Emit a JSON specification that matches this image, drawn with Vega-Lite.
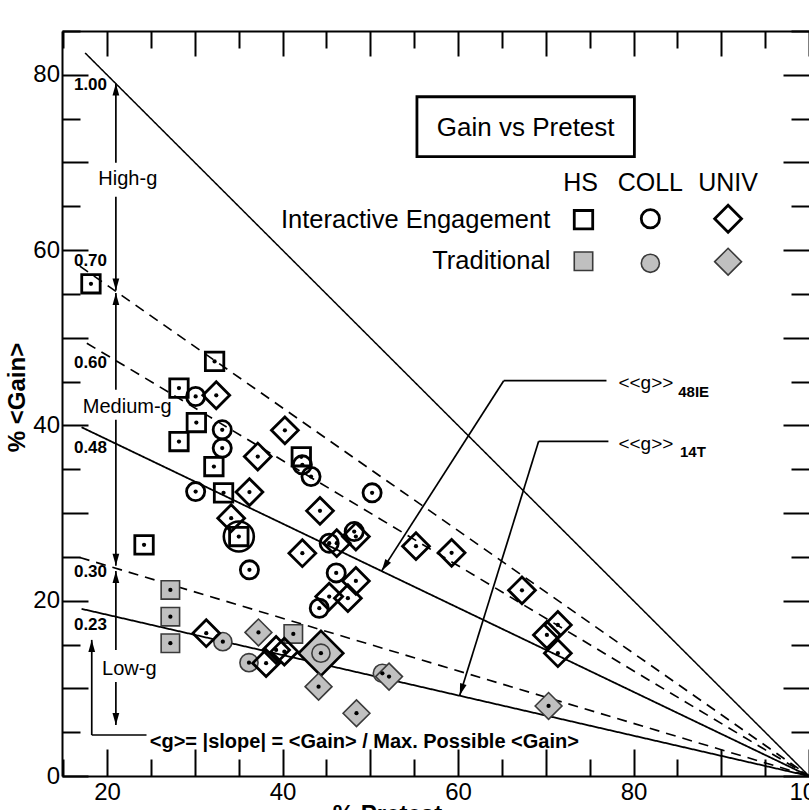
{
  "$schema": "https://vega.github.io/schema/vega-lite/v6.json",
  "width": 747,
  "height": 745,
  "autosize": {"type": "none"},
  "padding": {"left": 62, "top": 31, "right": 0, "bottom": 34},
  "background": "white",
  "config": {"view": {"stroke": null}, "font": "Liberation Sans", "text": {"font": "Liberation Sans", "color": "black"}},
  "datasets": {
    "glines": [
      {"g": "1.00", "style": "thin", "x": 17.5, "y": 82.5}, {"g": "1.00", "style": "thin", "x": 100, "y": 0},
      {"g": "0.70", "style": "dash", "x": 16.9, "y": 58.17}, {"g": "0.70", "style": "dash", "x": 100, "y": 0},
      {"g": "0.60", "style": "dash", "x": 17.7, "y": 49.38}, {"g": "0.60", "style": "dash", "x": 100, "y": 0},
      {"g": "0.48", "style": "thick", "x": 17.1, "y": 39.79}, {"g": "0.48", "style": "thick", "x": 100, "y": 0},
      {"g": "0.30", "style": "dash", "x": 16.9, "y": 24.93}, {"g": "0.30", "style": "dash", "x": 100, "y": 0},
      {"g": "0.23", "style": "thick", "x": 17.1, "y": 19.07}, {"g": "0.23", "style": "thick", "x": 100, "y": 0}
    ],
    "segs": [
      {"x": 21.01, "y": 79.0, "x2": 21.01, "y2": 69.98},
      {"x": 21.01, "y": 66.1, "x2": 21.01, "y2": 55.4},
      {"x": 21.01, "y": 55.1, "x2": 21.01, "y2": 44.06},
      {"x": 21.01, "y": 40.64, "x2": 21.01, "y2": 24.0},
      {"x": 21.01, "y": 23.4, "x2": 21.01, "y2": 14.38},
      {"x": 21.01, "y": 10.73, "x2": 21.01, "y2": 5.82},
      {"x": 18.26, "y": 15.53, "x2": 18.26, "y2": 4.68},
      {"x": 18.26, "y": 4.68, "x2": 24.5, "y2": 4.68},
      {"x": 65.21, "y": 45.1, "x2": 76.92, "y2": 45.1},
      {"x": 65.21, "y": 45.1, "x2": 51.3, "y2": 23.4},
      {"x": 69.19, "y": 38.18, "x2": 77.14, "y2": 38.18},
      {"x": 69.19, "y": 38.18, "x2": 60.2, "y2": 9.2}
    ],
    "heads": [
      {"x": 21.01, "y": 79.0, "angle": 0}, {"x": 21.01, "y": 55.4, "angle": 180},
      {"x": 21.01, "y": 55.1, "angle": 0}, {"x": 21.01, "y": 24.0, "angle": 180},
      {"x": 21.01, "y": 23.4, "angle": 0}, {"x": 21.01, "y": 5.82, "angle": 180},
      {"x": 18.26, "y": 15.53, "angle": 0}, {"x": 51.3, "y": 23.4, "angle": 212.8},
      {"x": 60.2, "y": 9.2, "angle": 197.3}
    ],
    "box": [{"x": 55.32, "x2": 80.1, "y": 70.66, "y2": 77.5}],
    "sym": [
      {"kind": "data", "method": "IE", "level": "HS", "x": 18.17, "y": 56.16},
      {"kind": "data", "method": "IE", "level": "HS", "x": 32.26, "y": 47.3},
      {"kind": "data", "method": "IE", "level": "HS", "x": 28.2, "y": 44.26},
      {"kind": "data", "method": "IE", "level": "HS", "x": 30.18, "y": 40.33},
      {"kind": "data", "method": "IE", "level": "HS", "x": 28.2, "y": 38.16},
      {"kind": "data", "method": "IE", "level": "HS", "x": 32.18, "y": 35.31},
      {"kind": "data", "method": "IE", "level": "HS", "x": 33.28, "y": 32.31},
      {"kind": "data", "method": "IE", "level": "HS", "x": 35.02, "y": 27.32},
      {"kind": "data", "method": "IE", "level": "HS", "x": 24.22, "y": 26.37},
      {"kind": "data", "method": "IE", "level": "HS", "x": 42.14, "y": 36.42},
      {"kind": "data", "method": "IE", "level": "COLL", "x": 30.1, "y": 43.3},
      {"kind": "data", "method": "IE", "level": "COLL", "x": 33.13, "y": 39.5},
      {"kind": "data", "method": "IE", "level": "COLL", "x": 33.13, "y": 37.41},
      {"kind": "data", "method": "IE", "level": "COLL", "x": 42.26, "y": 35.5},
      {"kind": "data", "method": "IE", "level": "COLL", "x": 43.25, "y": 34.17},
      {"kind": "data", "method": "IE", "level": "COLL", "x": 30.1, "y": 32.45},
      {"kind": "data", "method": "IE", "level": "COLL", "x": 50.21, "y": 32.31},
      {"kind": "data", "method": "IE", "level": "COLL", "x": 45.32, "y": 26.56},
      {"kind": "data", "method": "IE", "level": "COLL", "x": 48.17, "y": 27.89},
      {"kind": "data", "method": "IE", "level": "COLL", "x": 36.23, "y": 23.52},
      {"kind": "data", "method": "IE", "level": "COLL", "x": 46.12, "y": 23.17},
      {"kind": "data", "method": "IE", "level": "COLL", "x": 44.19, "y": 19.14},
      {"kind": "data", "method": "IE", "level": "UNIV", "x": 32.45, "y": 43.44},
      {"kind": "data", "method": "IE", "level": "UNIV", "x": 40.27, "y": 39.44},
      {"kind": "data", "method": "IE", "level": "UNIV", "x": 37.18, "y": 36.45},
      {"kind": "data", "method": "IE", "level": "UNIV", "x": 36.23, "y": 32.39},
      {"kind": "data", "method": "IE", "level": "UNIV", "x": 44.27, "y": 30.25},
      {"kind": "data", "method": "IE", "level": "UNIV", "x": 34.15, "y": 29.42},
      {"kind": "data", "method": "IE", "level": "UNIV", "x": 46.18, "y": 26.56},
      {"kind": "data", "method": "IE", "level": "UNIV", "x": 48.36, "y": 27.32},
      {"kind": "data", "method": "IE", "level": "UNIV", "x": 42.26, "y": 25.42},
      {"kind": "data", "method": "IE", "level": "UNIV", "x": 55.21, "y": 26.22},
      {"kind": "data", "method": "IE", "level": "UNIV", "x": 59.27, "y": 25.46},
      {"kind": "data", "method": "IE", "level": "UNIV", "x": 48.36, "y": 22.26},
      {"kind": "data", "method": "IE", "level": "UNIV", "x": 45.32, "y": 20.47},
      {"kind": "data", "method": "IE", "level": "UNIV", "x": 47.45, "y": 20.29},
      {"kind": "data", "method": "IE", "level": "UNIV", "x": 67.29, "y": 21.18},
      {"kind": "data", "method": "IE", "level": "UNIV", "x": 71.38, "y": 17.24},
      {"kind": "data", "method": "IE", "level": "UNIV", "x": 70.13, "y": 16.1},
      {"kind": "data", "method": "IE", "level": "UNIV", "x": 71.38, "y": 14.01},
      {"kind": "data", "method": "IE", "level": "UNIV", "x": 31.31, "y": 16.29},
      {"kind": "data", "method": "IE", "level": "UNIV", "x": 38.13, "y": 12.87},
      {"kind": "data", "method": "IE", "level": "UNIV", "x": 39.27, "y": 14.38},
      {"kind": "data", "method": "IE", "level": "UNIV", "x": 40.21, "y": 14.19},
      {"kind": "data", "method": "T", "level": "HS", "x": 27.22, "y": 21.23},
      {"kind": "data", "method": "T", "level": "HS", "x": 27.22, "y": 18.18},
      {"kind": "data", "method": "T", "level": "HS", "x": 27.22, "y": 15.15},
      {"kind": "data", "method": "T", "level": "HS", "x": 41.23, "y": 16.21},
      {"kind": "data", "method": "T", "level": "COLL", "x": 33.2, "y": 15.33},
      {"kind": "data", "method": "T", "level": "COLL", "x": 36.18, "y": 12.93},
      {"kind": "data", "method": "T", "level": "COLL", "x": 51.38, "y": 11.72},
      {"kind": "data", "method": "T", "level": "COLL", "x": 44.38, "y": 14.01},
      {"kind": "data", "method": "T", "level": "UNIV", "x": 37.26, "y": 16.38},
      {"kind": "data", "method": "T", "level": "UNIV", "x": 44.11, "y": 10.19},
      {"kind": "data", "method": "T", "level": "UNIV", "x": 48.43, "y": 7.16},
      {"kind": "data", "method": "T", "level": "UNIV", "x": 52.14, "y": 11.34},
      {"kind": "data", "method": "T", "level": "UNIV", "x": 70.32, "y": 7.99},
      {"kind": "legend", "method": "IE", "level": "HS", "x": 74.3, "y": 63.47},
      {"kind": "legend", "method": "IE", "level": "COLL", "x": 81.92, "y": 63.58},
      {"kind": "legend", "method": "IE", "level": "UNIV", "x": 90.78, "y": 63.58},
      {"kind": "legend", "method": "T", "level": "HS", "x": 74.3, "y": 58.73},
      {"kind": "legend", "method": "T", "level": "COLL", "x": 81.92, "y": 58.5},
      {"kind": "legend", "method": "T", "level": "UNIV", "x": 90.78, "y": 58.68}
    ],
    "big": [
      {"method": "IE", "level": "COLL", "x": 35.02, "y": 27.32},
      {"method": "T", "level": "UNIV", "x": 44.38, "y": 14.01}
    ],
    "t_title": [{"x": 67.71, "y": 73.97, "text": "Gain vs Pretest"}],
    "t_head": [
      {"x": 73.96, "y": 67.69, "text": "HS"},
      {"x": 81.92, "y": 67.69, "text": "COLL"},
      {"x": 90.78, "y": 67.69, "text": "UNIV"}
    ],
    "t_rows": [
      {"x": 70.52, "y": 63.47, "text": "Interactive Engagement"},
      {"x": 70.52, "y": 58.71, "text": "Traditional"}
    ],
    "t_zone": [
      {"x": 22.37, "y": 68.15, "text": "High-g"},
      {"x": 22.31, "y": 42.07, "text": "Medium-g"},
      {"x": 22.54, "y": 12.16, "text": "Low-g"}
    ],
    "t_g": [
      {"x": 16.23, "y": 78.82, "text": "1.00"},
      {"x": 16.23, "y": 58.79, "text": "0.70"},
      {"x": 16.23, "y": 47.15, "text": "0.60"},
      {"x": 16.23, "y": 37.39, "text": "0.48"},
      {"x": 16.23, "y": 23.29, "text": "0.30"},
      {"x": 16.23, "y": 17.18, "text": "0.23"}
    ],
    "t_formula": [{"x": 24.87, "y": 3.92, "text": "<g>= |slope| = <Gain> / Max. Possible <Gain>"}],
    "t_gg": [
      {"x": 78.28, "y": 44.86, "text": "<<g>>"},
      {"x": 78.28, "y": 37.9, "text": "<<g>>"}
    ],
    "t_sub": [
      {"x": 85.1, "y": 43.84, "text": "48IE"},
      {"x": 85.3, "y": 37.0, "text": "14T"}
    ]
  },
  "encoding": {
    "x": {"field": "x", "type": "quantitative", "scale": {"domain": [14.87, 100], "nice": false, "zero": false}, "axis": null},
    "y": {"field": "y", "type": "quantitative", "scale": {"domain": [0, 85], "nice": false, "zero": false}, "axis": null}
  },
  "layer": [
    {
      "data": {"name": "glines"},
      "mark": {"type": "line", "color": "black"},
      "encoding": {
        "x": {"field": "x", "type": "quantitative", "scale": {"domain": [14.87, 100], "nice": false, "zero": false},
          "axis": {"orient": "bottom", "values": [15, 20, 25, 30, 35, 40, 45, 50, 55, 60, 65, 70, 75, 80, 85, 90, 95, 100],
            "labelExpr": "datum.value % 20 === 0 ? datum.label : ''",
            "tickSize": {"condition": {"test": "datum.value % 10 === 0", "value": -27}, "value": -17},
            "labelPadding": 31, "labelBaseline": "top", "labelFontSize": 24, "labelColor": "black", "labelFont": "Liberation Sans",
            "labelFlush": false, "labelOverlap": false, "labelBound": false,
            "domainColor": "black", "domainWidth": 2, "tickColor": "black", "tickWidth": 2, "grid": false,
            "title": "% Pretest", "titleFontSize": 24, "titleFontWeight": "bold", "titleFont": "Liberation Sans", "titleColor": "black",
            "titleX": 325, "titleY": 26.5, "titleBaseline": "top", "titleAlign": "center"}},
        "y": {"field": "y", "type": "quantitative", "scale": {"domain": [0, 85], "nice": false, "zero": false},
          "axis": {"orient": "left", "values": [0, 5, 10, 15, 20, 25, 30, 35, 40, 45, 50, 55, 60, 65, 70, 75, 80, 85],
            "labelExpr": "datum.value % 20 === 0 ? datum.label : ''",
            "tickSize": {"condition": {"test": "datum.value % 10 === 0", "value": -26}, "value": -18},
            "labelPadding": 28.5, "labelFontSize": 24, "labelColor": "black", "labelFont": "Liberation Sans",
            "labelFlush": false, "labelOverlap": false, "labelBound": false,
            "domainColor": "black", "domainWidth": 2, "tickColor": "black", "tickWidth": 2, "grid": false,
            "title": "% <Gain>", "titleFontSize": 24, "titleFontWeight": "bold", "titleFont": "Liberation Sans", "titleColor": "black",
            "titleAngle": -90, "titleX": -45, "titleY": 366, "titleBaseline": "middle", "titleAlign": "center"}},
        "detail": {"field": "g", "type": "nominal"},
        "strokeWidth": {"field": "style", "type": "nominal", "scale": {"domain": ["thin", "dash", "thick"], "range": [1.5, 1.8, 2.6]}, "legend": null},
        "strokeDash": {"field": "style", "type": "nominal", "scale": {"domain": ["thin", "dash", "thick"], "range": [[1, 0], [10, 7], [1, 0]]}, "legend": null}
      }
    },
    {
      "data": {"name": "segs"},
      "mark": {"type": "rule", "color": "black", "strokeWidth": 1.7},
      "encoding": {
        "x": {"field": "x", "type": "quantitative", "scale": {"domain": [14.87, 100], "nice": false, "zero": false},
          "axis": {"orient": "top", "values": [15, 20, 25, 30, 35, 40, 45, 50, 55, 60, 65, 70, 75, 80, 85, 90, 95, 100],
            "labels": false, "title": null,
            "tickSize": {"condition": {"test": "datum.value % 10 === 0", "value": -25}, "value": -17},
            "domainColor": "black", "domainWidth": 2, "tickColor": "black", "tickWidth": 2, "grid": false}},
        "y": {"field": "y", "type": "quantitative", "scale": {"domain": [0, 85], "nice": false, "zero": false},
          "axis": {"orient": "right", "values": [0, 5, 10, 15, 20, 25, 30, 35, 40, 45, 50, 55, 60, 65, 70, 75, 80, 85],
            "labels": false, "title": null, "domain": false,
            "tickSize": {"condition": {"test": "datum.value % 10 === 0", "value": -26}, "value": -18},
            "tickColor": "black", "tickWidth": 2, "grid": false}},
        "x2": {"field": "x2"},
        "y2": {"field": "y2"}
      }
    },
    {
      "data": {"name": "heads"},
      "mark": {"type": "point", "shape": "M0,0L-0.45,1.6L0.45,1.6Z", "filled": true, "color": "black", "size": 225, "opacity": 1},
      "encoding": {
        "angle": {"field": "angle", "type": "quantitative", "scale": null}
      }
    },
    {
      "data": {"name": "box"},
      "mark": {"type": "rect", "fill": null, "stroke": "black", "strokeWidth": 2.8},
      "encoding": {"x2": {"field": "x2"}, "y2": {"field": "y2"}}
    },
    {
      "data": {"name": "big"},
      "transform": [{"filter": "datum.method === 'T'"}],
      "mark": {"type": "point", "shape": "diamond", "filled": true, "fill": "#c4c4c4", "stroke": "black", "strokeWidth": 2.6, "size": 2000, "opacity": 1}
    },
    {
      "data": {"name": "big"},
      "transform": [{"filter": "datum.method === 'IE'"}],
      "mark": {"type": "point", "shape": "circle", "filled": false, "stroke": "black", "strokeWidth": 2.6, "size": 900, "opacity": 1}
    },
    {
      "data": {"name": "sym"},
      "transform": [{"filter": "datum.method === 'T'"}],
      "mark": {"type": "point", "filled": true, "fill": "#c0c0c0", "stroke": "#3a3a3a", "strokeWidth": 1.6, "opacity": 1},
      "encoding": {
        "shape": {"field": "level", "type": "nominal", "scale": {"domain": ["HS", "COLL", "UNIV"], "range": ["square", "circle", "diamond"]}, "legend": null},
        "size": {"field": "level", "type": "nominal", "scale": {"type": "ordinal", "domain": ["HS", "COLL", "UNIV"], "range": [340, 330, 720]}, "legend": null}
      }
    },
    {
      "data": {"name": "sym"},
      "transform": [{"filter": "datum.method === 'IE'"}],
      "mark": {"type": "point", "filled": false, "stroke": "black", "strokeWidth": 2.8, "opacity": 1},
      "encoding": {
        "shape": {"field": "level", "type": "nominal", "scale": {"domain": ["HS", "COLL", "UNIV"], "range": ["square", "circle", "diamond"]}, "legend": null},
        "size": {"field": "level", "type": "nominal", "scale": {"type": "ordinal", "domain": ["HS", "COLL", "UNIV"], "range": [340, 330, 720]}, "legend": null}
      }
    },
    {
      "data": {"name": "sym"},
      "transform": [{"filter": "datum.kind === 'data'"}],
      "mark": {"type": "point", "shape": "circle", "filled": true, "color": "black", "size": 18, "opacity": 1}
    },
    {
      "data": {"name": "t_title"},
      "mark": {"type": "text", "fontSize": 26, "align": "center", "baseline": "middle"},
      "encoding": {"text": {"field": "text"}}
    },
    {
      "data": {"name": "t_head"},
      "mark": {"type": "text", "fontSize": 25, "align": "center", "baseline": "middle"},
      "encoding": {"text": {"field": "text"}}
    },
    {
      "data": {"name": "t_rows"},
      "mark": {"type": "text", "fontSize": 25.5, "align": "right", "baseline": "middle"},
      "encoding": {"text": {"field": "text"}}
    },
    {
      "data": {"name": "t_zone"},
      "mark": {"type": "text", "fontSize": 20, "align": "center", "baseline": "middle"},
      "encoding": {"text": {"field": "text"}}
    },
    {
      "data": {"name": "t_g"},
      "mark": {"type": "text", "fontSize": 17, "fontWeight": "bold", "align": "left", "baseline": "middle"},
      "encoding": {"text": {"field": "text"}}
    },
    {
      "data": {"name": "t_formula"},
      "mark": {"type": "text", "fontSize": 20, "fontWeight": "bold", "align": "left", "baseline": "middle"},
      "encoding": {"text": {"field": "text"}}
    },
    {
      "data": {"name": "t_gg"},
      "mark": {"type": "text", "fontSize": 19, "align": "left", "baseline": "middle"},
      "encoding": {"text": {"field": "text"}}
    },
    {
      "data": {"name": "t_sub"},
      "mark": {"type": "text", "fontSize": 15, "fontWeight": "bold", "align": "left", "baseline": "middle"},
      "encoding": {"text": {"field": "text"}}
    }
  ],
  "resolve": {"axis": {"x": "independent", "y": "independent"}}
}
